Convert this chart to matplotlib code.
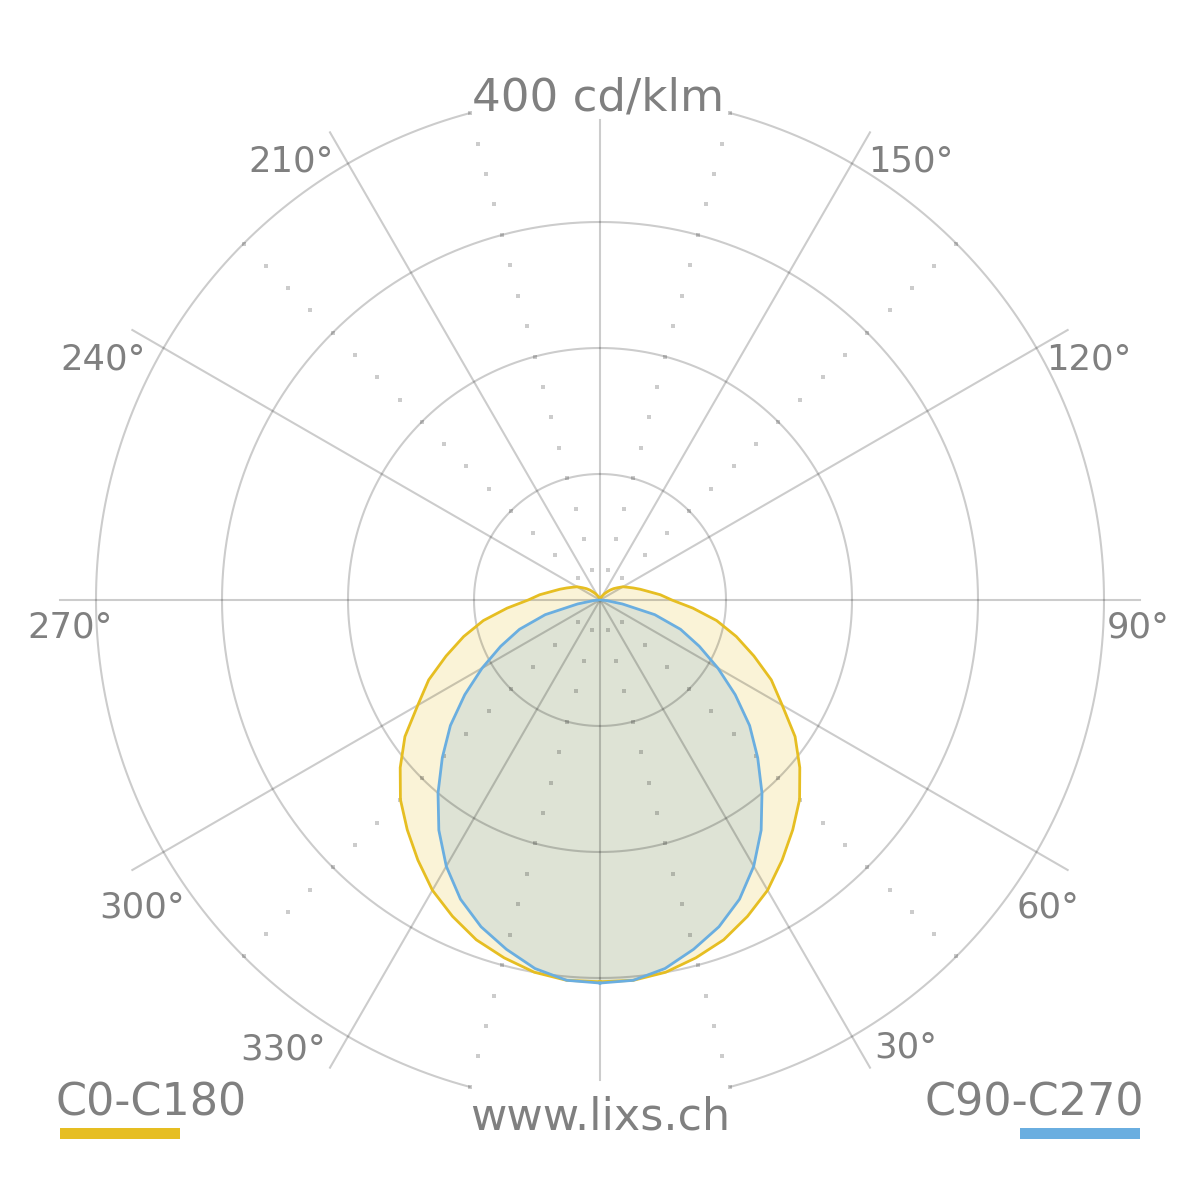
import numpy as np
import matplotlib
matplotlib.use("Agg")
import matplotlib.pyplot as plt
from matplotlib.patches import Rectangle

# ---------------- data (cd/klm) ----------------
gamma = list(range(0, 181, 5))
c0 = [303, 303, 300, 294, 287, 277, 266, 252, 238, 224, 207, 189, 167, 150, 130, 112, 94, 74, 57,
      48, 39, 33, 28, 24, 21, 17, 14, 11, 8, 6, 4, 3, 2, 1, 1, 0, 0]
c180 = [303, 303, 300, 294, 287, 277, 266, 252, 238, 224, 207, 189, 167, 150, 130, 112, 94, 74, 57,
        48, 39, 33, 28, 24, 21, 17, 14, 11, 8, 6, 4, 3, 2, 1, 1, 0, 0]
c90 = [304, 303, 297, 287, 276, 262, 244, 223, 200, 177, 155, 131, 108, 87, 68, 45, 18, 5, 0,
       0, 0, 0, 0, 0, 0, 0, 0, 0, 0, 0, 0, 0, 0, 0, 0, 0, 0]
c270 = [304, 303, 297, 287, 276, 262, 244, 223, 200, 177, 155, 131, 108, 87, 68, 45, 18, 5, 0,
        0, 0, 0, 0, 0, 0, 0, 0, 0, 0, 0, 0, 0, 0, 0, 0, 0, 0]

rings = [100, 200, 300]
outer_ring = 400
dot_step = 25
angle_ticks = [30, 60, 90, 120, 150, 210, 240, 270, 300, 330]
spoke_angles = list(range(0, 360, 30))
dot_angles = [15, 45, 135, 165, 195, 225, 315, 345]
series_names = ["C0-C180", "C90-C270"]
title = "400 cd/klm"
footer = "www.lixs.ch"

# ---------------- style ----------------
W = H = 1200
DPI = 100
PX_PER_CD = 504 / 400.0
RMAX = 540 / PX_PER_CD
R_VERT = 480 / PX_PER_CD
TEXT = "#808080"
YEL = "#E6BE22"
BLU = "#6AAEE0"
GRID = (0, 0, 0, 0.2)

fig = plt.figure(figsize=(W / DPI, H / DPI), dpi=DPI)
fig.patch.set_facecolor("white")
ax = fig.add_axes([60 / W, 60 / H, 1080 / W, 1080 / H], projection="polar")
ax.set_theta_zero_location("S")
ax.set_theta_direction(1)
ax.set_ylim(0, RMAX)
ax.set_axis_off()


def closed_curve(a_vals, b_vals):
    th = [np.deg2rad(g) for g in gamma] + [np.deg2rad(360 - g) for g in gamma[::-1]]
    rr = list(a_vals) + list(b_vals)[::-1]
    return th, rr


th_y, r_y = closed_curve(c0, c180)
th_b, r_b = closed_curve(c90, c270)

ax.fill(th_y, r_y, color=YEL, alpha=0.18, lw=0, zorder=1)
ax.fill(th_b, r_b, color="#8BB7D0", alpha=0.25, lw=0, zorder=2)

# grid
full = np.linspace(0, 2 * np.pi, 721)
for r in rings:
    ax.plot(full, [r] * len(full), color=GRID, lw=1.5, zorder=3)
for a0, a1 in [(15, 165), (195, 345)]:
    arc = np.deg2rad(np.linspace(a0, a1, 301))
    ax.plot(arc, [outer_ring] * len(arc), color=GRID, lw=1.5, zorder=3)
for a in spoke_angles:
    rend = R_VERT if a % 180 == 0 else RMAX
    ax.plot([np.deg2rad(a)] * 2, [0, rend], color=GRID, lw=1.5, zorder=3, clip_on=False)
dot_r = np.arange(dot_step, outer_ring + 1, dot_step)
for a in dot_angles:
    ax.plot([np.deg2rad(a)] * len(dot_r), dot_r, ls="none", marker="s", ms=2.5,
            mew=0, color=(0, 0, 0, 0.2), zorder=3)

ax.plot(th_y, r_y, color=YEL, lw=2.0, zorder=4)
ax.plot(th_b, r_b, color=BLU, lw=2.0, zorder=5)

# texts
def ft(x, y, s, **kw):
    fig.text(x / W, 1 - y / H, s, color=TEXT, family="DejaVu Sans", **kw)

label_pos = {30: (906, 1058), 60: (1048, 917), 90: (1138, 638), 120: (1089, 369),
             150: (911, 171), 210: (291, 171), 240: (103, 369), 270: (70, 638),
             300: (142, 917), 330: (283, 1059)}
for a in angle_ticks:
    x, y = label_pos[a]
    ft(x, y, f"{a}°", fontsize=25.5, ha="center", va="baseline")

ft(598, 110, title, fontsize=32.5, ha="center", va="baseline")
ft(600, 1130, footer, fontsize=32, ha="center", va="baseline")
ft(56, 1116, series_names[0], fontsize=32, ha="left", va="baseline")
ft(1144, 1115, series_names[1], fontsize=32, ha="right", va="baseline")

fig.patches.append(Rectangle((60 / W, 1 - 1139 / H), 120 / W, 11 / H,
                             transform=fig.transFigure, color=YEL, lw=0))
fig.patches.append(Rectangle((1020 / W, 1 - 1139 / H), 120 / W, 11 / H,
                             transform=fig.transFigure, color=BLU, lw=0))

fig.savefig("out.png", dpi=DPI, facecolor="white")
